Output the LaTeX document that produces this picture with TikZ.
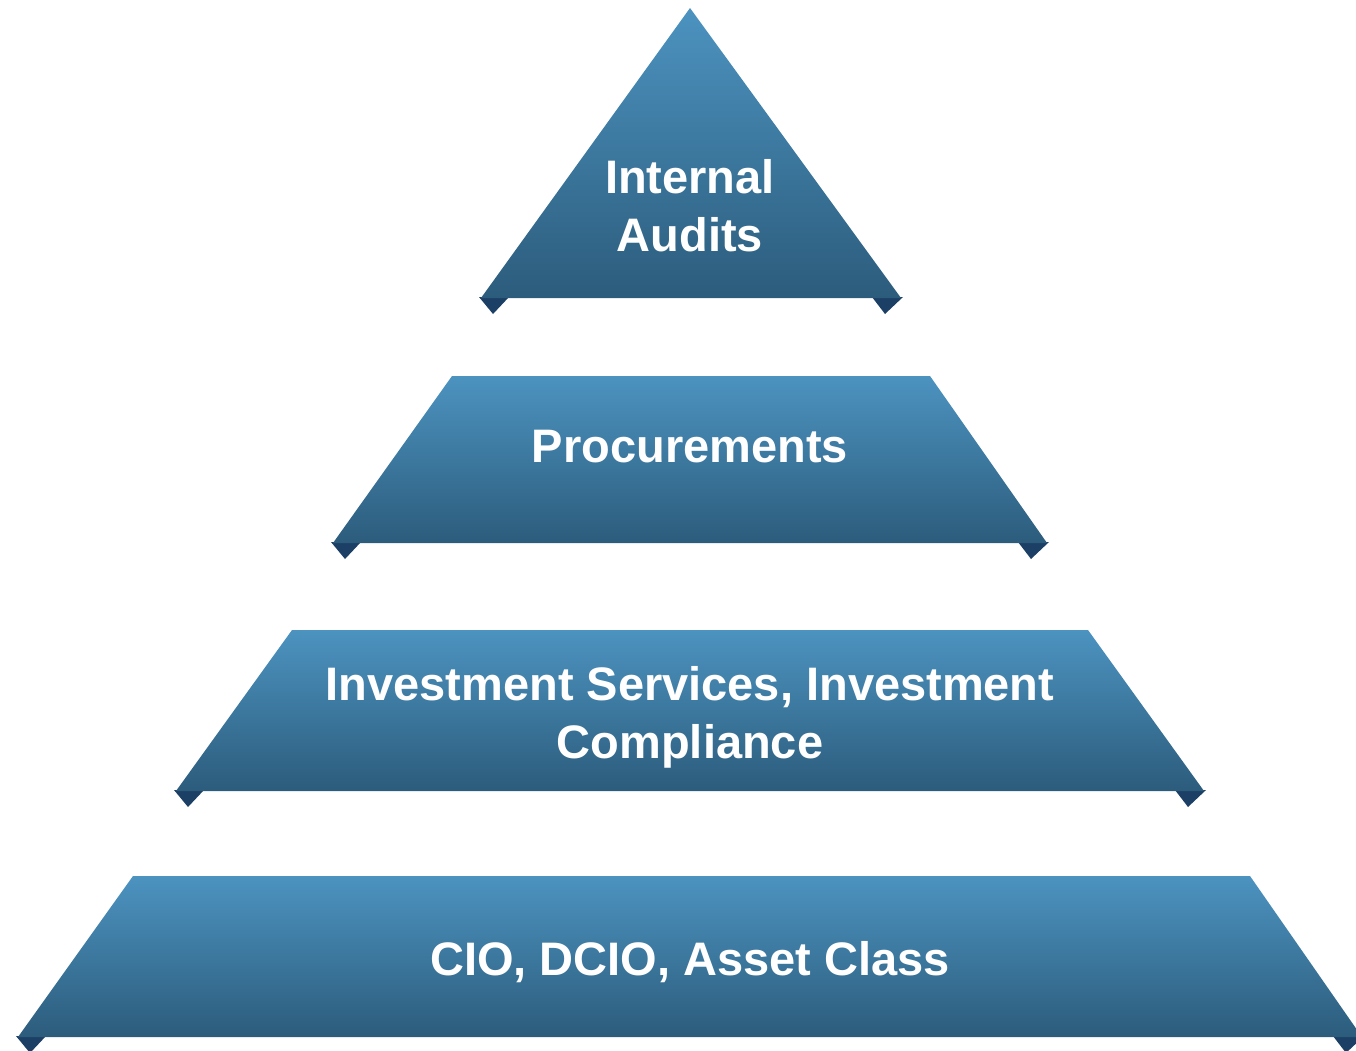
\documentclass[tikz,border=0pt]{standalone}
\usepackage{fontspec}
\setmainfont{Liberation Sans}
\usepackage{tikz}
\usetikzlibrary{calc}

\definecolor{tierTop}{HTML}{4C93C0}
\definecolor{tierBot}{HTML}{2C5C7C}
\definecolor{foldBlue}{HTML}{1C3F66}

\begin{document}
\begin{tikzpicture}[x=1pt,y=-1pt,
    tier/.style={top color=tierTop,bottom color=tierBot,draw=none},
    fold/.style={fill=foldBlue,draw=none},
    tiertext/.style={text=white,align=center,
      font=\fontsize{47}{58}\selectfont\bfseries}]
  \useasboundingbox (0,0) rectangle (1356,1050);

  % corners of the four tiers
  \coordinate (a1) at (690,8);
  \coordinate (bl1) at (481,298);
  \coordinate (br1) at (901,298);
  \coordinate (tl2) at (452,376);
  \coordinate (tr2) at (930,376);
  \coordinate (bl2) at (333,543);
  \coordinate (br2) at (1047,543);
  \coordinate (tl3) at (292,630);
  \coordinate (tr3) at (1088,630);
  \coordinate (bl3) at (176,791);
  \coordinate (br3) at (1204,791);
  \coordinate (tl4) at (133,876);
  \coordinate (tr4) at (1250,876);
  \coordinate (bl4) at (18,1037);
  \coordinate (br4) at (1362,1037);

  % folded corners
  \foreach \c in {bl1,bl2,bl3,bl4} {
    \fill [fold] ($ (\c)+(-2,-1) $) -- ($ (\c)+(28,-1) $) -- ($ (\c)+(12,16) $) -- cycle;
  }
  \foreach \c in {br1,br2,br3,br4} {
    \fill [fold] ($ (\c)+(2,-1) $) -- ($ (\c)+(-29,-1) $) -- ($ (\c)+(-16,16) $) -- cycle;
  }

  % tiers
  \shade [tier] (a1) -- (br1) -- (bl1) -- cycle;
  \shade [tier] (tl2) -- (tr2) -- (br2) -- (bl2) -- cycle;
  \shade [tier] (tl3) -- (tr3) -- (br3) -- (bl3) -- cycle;
  \shade [tier] (tl4) -- (tr4) -- (br4) -- (bl4) -- cycle;

  \node [tiertext] (audits) at (690,206) {Internal\\Audits};
  \node [tiertext] (procure) at (690,447) {Procurements};
  \node [tiertext] (invest) at (690,717) {Investment Services, Investment\\Compliance};
  \node [tiertext] (cio) at (690,962) {CIO, DCIO, Asset Class};
\end{tikzpicture}
\end{document}
